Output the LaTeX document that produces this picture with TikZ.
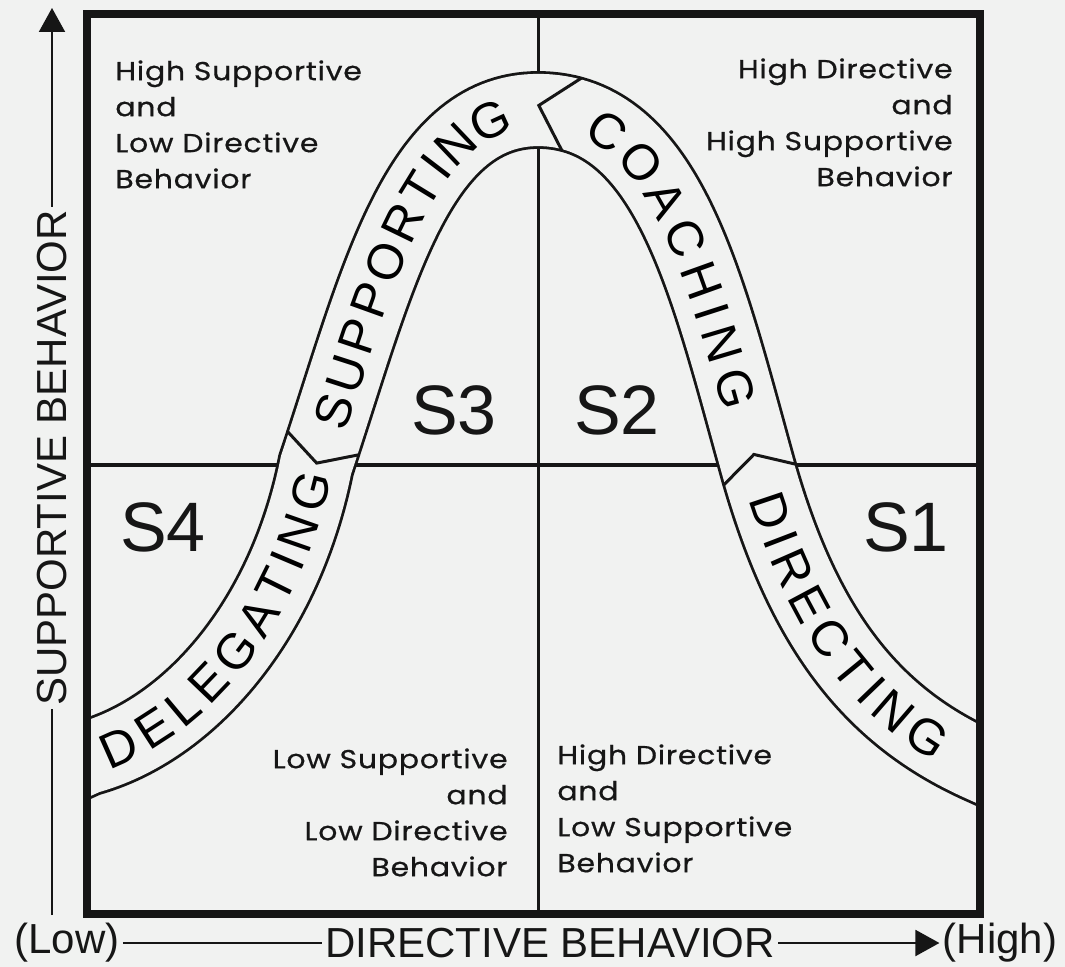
\documentclass[tikz,border=0pt]{standalone}
\usepackage{fontspec}
\setmainfont{Liberation Sans}
\newfontfamily\quadfont[LetterSpace=3,FakeStretch=1.15,FakeBold=0.6]{Poppins}
\newcommand{\bandfont}{\fontsize{25}{30}\selectfont}
\usetikzlibrary{arrows.meta,decorations.text,decorations.markings}
\definecolor{paper}{RGB}{241,242,241}
\definecolor{ink}{RGB}{22,22,22}

\begin{document}
\begin{tikzpicture}[
  x=0.5pt,y=-0.5pt,
  frame/.style={draw=ink,line width=4pt},
  divider/.style={draw=ink,line width=1.5pt,line join=miter},
  quad/.style={font=\quadfont\fontsize{13}{18}\selectfont,inner sep=0pt,text=ink},
  sit/.style={font=\fontsize{35}{40}\selectfont,inner sep=0pt,text=ink},
  axis/.style={font=\fontsize{21}{24}\selectfont,inner sep=1.5pt,text=ink},
  axisline/.style={draw=ink,line width=1pt},
  arr/.style={-{Triangle[length=12pt,width=13pt]},line width=1pt,draw=ink},
  band/.style={draw=paper,line width=36.1pt,preaction={draw=ink,line width=38.9pt}},
  chev/.style 2 args={postaction={decorate,decoration={markings,
      mark=at position #1 with {\draw[divider] (0pt,18.75pt) -- (#2,0pt) -- (0pt,-18.75pt);}}}},
  bandlabel/.style 2 args={decorate,decoration={text along path,raise=-9pt,
      text align={fit to path,left indent=#1,right indent=#2}}}
]
\path[use as bounding box,fill=paper] (0,0) rectangle (1065,967);

\coordinate (nw) at (87,14);
\coordinate (se) at (980,914);
\coordinate (a0) at (57,771.5);
\coordinate (L0) at (87,758);
\coordinate (c1) at (190,730);
\coordinate (c2) at (285,620);
\coordinate (L1) at (316,465);
\coordinate (c3) at (376,285);
\coordinate (c4) at (415,110);
\coordinate (T) at (538,110);
\coordinate (c5) at (668,110);
\coordinate (c6) at (707,285);
\coordinate (R1) at (757,465);
\coordinate (c7) at (802,627);
\coordinate (c8) at (870,715.5);
\coordinate (R0) at (980,765);
\coordinate (a1) at (1010,778.5);

\draw[ink,line width=1.5pt] (538,14) -- (538,914);
\draw[ink,line width=2pt] (87,465) -- (980,465);

\begin{scope}
\clip (nw) rectangle (se);
\path[band] (a0) -- (L0) .. controls (c1) and (c2) .. (L1) .. controls (c3) and (c4) .. (T)
  .. controls (c5) and (c6) .. (R1) .. controls (c7) and (c8) .. (R0) -- (a1);
\end{scope}

\path[chev={11.5pt}{-10.5pt}] (L1) .. controls (c3) and (c4) .. (T);
\path[chev={17pt}{-17pt}] (T) .. controls (c5) and (c6) .. (R1);
\path[chev={5pt}{-10.5pt}] (R1) .. controls (c7) and (c8) .. (R0);

\path[bandlabel={8pt}{4pt},decoration={text={|\bandfont|DELEGATING}}]
  (L0) .. controls (c1) and (c2) .. (L1);
\path[bandlabel={20pt}{15pt},decoration={text={|\bandfont|SUPPORTING}}]
  (L1) .. controls (c3) and (c4) .. (T);
\path[bandlabel={28pt}{30pt},decoration={text={|\bandfont|COACHING}}]
  (T) .. controls (c5) and (c6) .. (R1);
\path[bandlabel={15pt}{20pt},decoration={text={|\bandfont|DIRECTING}}]
  (R1) .. controls (c7) and (c8) .. (R0);

\draw[frame] (nw) rectangle (se);

\node[quad,anchor=north west,align=left] (tl) at (115,60) {High Supportive\\and\\Low Directive\\Behavior};
\node[quad,anchor=north east,align=right] (tr) at (953,58) {High Directive\\and\\High Supportive\\Behavior};
\node[quad,anchor=north east,align=right] (bl) at (508,748) {Low Supportive\\and\\Low Directive\\Behavior};
\node[quad,anchor=north west,align=left] (br) at (557,744) {High Directive\\and\\Low Supportive\\Behavior};

\node[sit] (s3) at (454,410) {S3};
\node[sit] (s2) at (617,410) {S2};
\node[sit] (s4) at (163,527) {S4};
\node[sit] (s1) at (906,527) {S1};

\node[axis] (low) at (67,943) {(Low)};
\node[axis] (dir) at (550,943) {DIRECTIVE BEHAVIOR};
\node[axis] (high) at (1000,943) {(High)};
\draw[axisline] (low) -- (dir);
\draw[arr] (dir) -- (high);

\node[axis,rotate=90] (sup) at (52,458) {SUPPORTIVE BEHAVIOR};
\coordinate (ybot) at (52,915);
\coordinate (ytop) at (52,8);
\draw[axisline] (ybot) -- (sup);
\draw[arr] (sup) -- (ytop);
\end{tikzpicture}
\end{document}
